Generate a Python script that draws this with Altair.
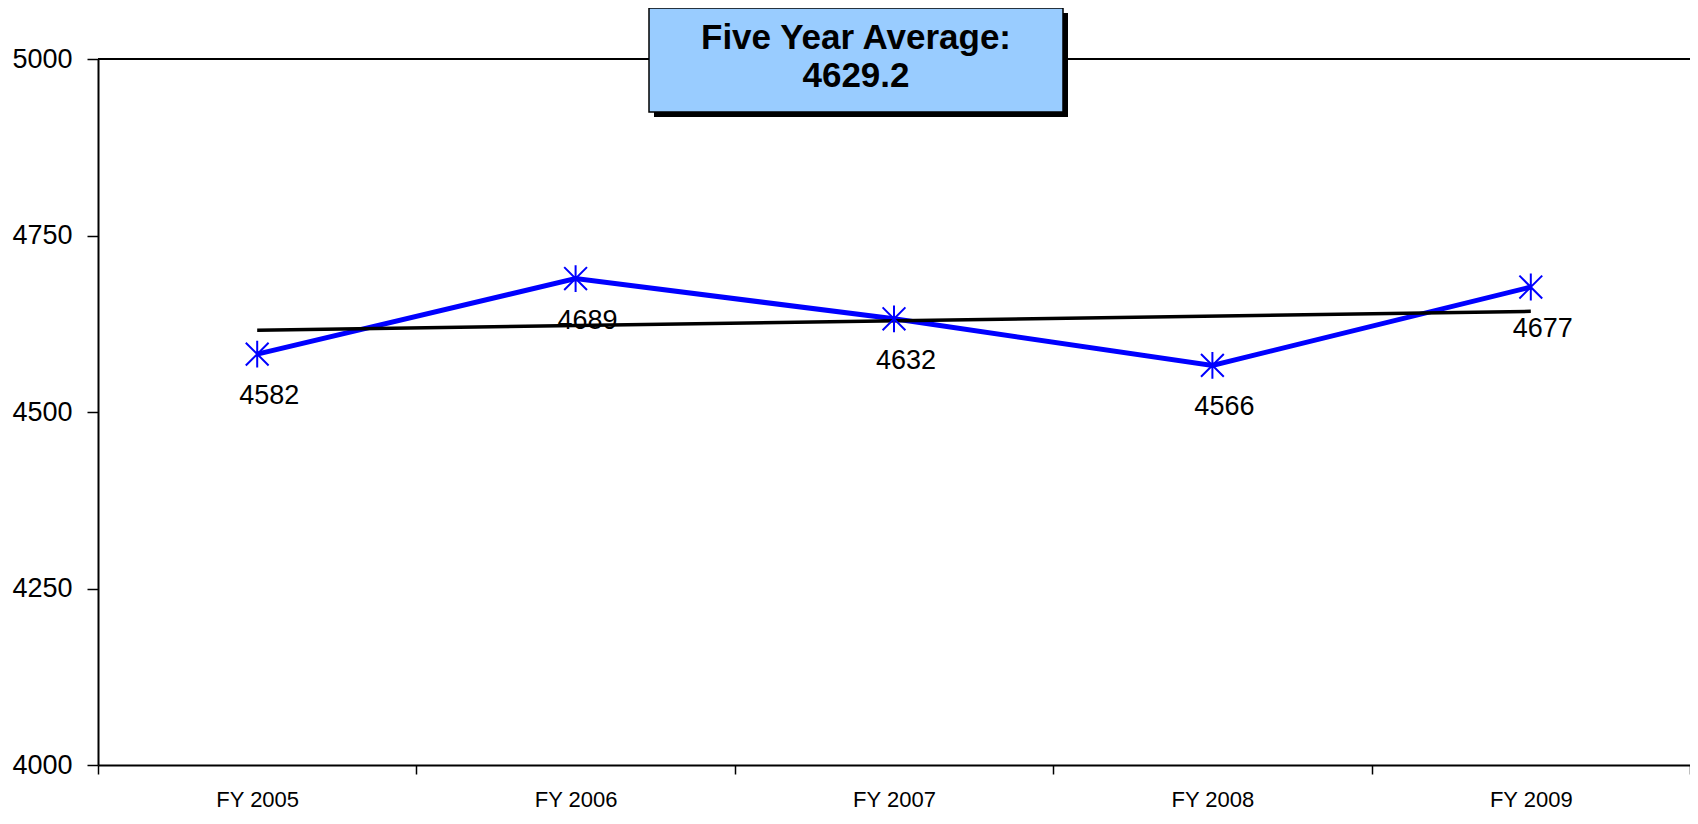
import altair as alt
import pandas as pd

YEARS = ["FY 2005", "FY 2006", "FY 2007", "FY 2008", "FY 2009"]
VALUES = [4582, 4689, 4632, 4566, 4677]
Y_TICKS = [4000, 4250, 4500, 4750, 5000]

df = pd.DataFrame({"year": YEARS, "value": VALUES, "idx": list(range(len(YEARS)))})

FONT = "Liberation Sans"
BLUE = "#0000FF"

x_enc = alt.X(
    "year:N",
    sort=YEARS,
    scale=alt.Scale(paddingInner=0, paddingOuter=0),
    axis=alt.Axis(
        title=None,
        tickBand="extent",
        labelAngle=0,
        labelFontSize=22,
        labelPadding=15,
        tickSize=9,
    ),
)
y_enc = alt.Y(
    "value:Q",
    scale=alt.Scale(domain=[4000, 5000], nice=False, zero=False),
    axis=alt.Axis(
        title=None,
        values=Y_TICKS,
        format="d",
        labelFontSize=27,
        labelPadding=15,
        tickSize=11,
    ),
)

base = alt.Chart(df)

top_rule = base.mark_rule(color="black", strokeWidth=1.5).encode(y=alt.datum(5000))

line = base.mark_line(color=BLUE, strokeWidth=5).encode(x=x_enc, y=y_enc)

labels = base.mark_text(
    fontSize=27, font=FONT, color="black", dy=42, dx=12, baseline="middle", align="center"
).encode(x=alt.X("year:N", sort=YEARS), y="value:Q", text=alt.Text("value:Q", format="d"))

year_expr = "[" + ",".join("'%s'" % y for y in YEARS) + "][datum.idx]"
trend = (
    base.transform_regression("idx", "value")
    .transform_calculate(year=year_expr)
    .mark_line(color="black", strokeWidth=3.5)
    .encode(x=alt.X("year:N", sort=YEARS), y="value:Q")
)

star = "M0,-1L0,1M-0.85,-0.85L0.85,0.85M-0.85,0.85L0.85,-0.85"
points = base.mark_point(
    shape=star, size=720, filled=False, color=BLUE, strokeWidth=2, opacity=1
).encode(x=alt.X("year:N", sort=YEARS), y="value:Q")

avg = base.transform_aggregate(avg="mean(value)")
shadow = avg.mark_rect(color="black").encode(
    x=alt.value(556), x2=alt.value(970), y=alt.value(-46), y2=alt.value(58)
)
box = avg.mark_rect(fill="#99CCFF", stroke="black", strokeWidth=1.5).encode(
    x=alt.value(551), x2=alt.value(965), y=alt.value(-51), y2=alt.value(53)
)
box_text = (
    avg.transform_calculate(label="['Five Year Average:', format(datum.avg, '.1f')]")
    .mark_text(
        font=FONT, fontSize=35, fontWeight="bold", color="black",
        align="center", baseline="alphabetic", lineHeight=38,
    )
    .encode(x=alt.value(758), y=alt.value(-10), text="label:N")
)

chart = (
    alt.layer(top_rule, line, labels, trend, points, shadow, box, box_text)
    .properties(
        width=1592,
        height=706,
        autosize=alt.AutoSizeParams(type="none"),
        padding={"left": 90, "top": 51, "right": 0, "bottom": 47},
        background="white",
    )
    .configure_view(stroke=None)
    .configure_axis(
        domainColor="black",
        domainWidth=2,
        tickColor="black",
        tickWidth=1.5,
        labelColor="black",
        labelFont=FONT,
        grid=False,
    )
)

chart.save("out.html", embed_options={"renderer": "svg", "actions": False})
